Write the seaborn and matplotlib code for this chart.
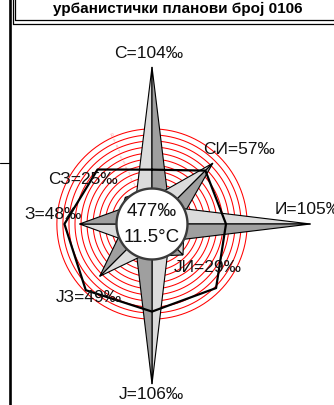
import numpy as np
import pandas as pd
import matplotlib
matplotlib.use("Agg")
import matplotlib.pyplot as plt
import seaborn as sns

# ---------------- data ----------------
directions = ["С", "СИ", "И", "ЈИ", "Ј", "ЈЗ", "З", "СЗ"]
angles_deg = [0, 45, 90, 135, 180, 225, 270, 315]
frequency = [104, 57, 105, 29, 106, 49, 48, 25]          # ‰ (spike lengths)
polygon_r = [36, 50, 49, 60, 58, 62, 58, 51]              # second series (black polygon)
calm_total = "477‰"
mean_temp = "11.5°C"
ring_values = [27, 31, 35, 39, 43, 47, 51, 55, 59, 63]    # red scale rings
ring_labels = ["1", "2", "3", "4", "5", "6", "7", "8", "9", "10"]
title = "урбанистички планови број 0106"

# ---------------- style ----------------
sns.set_theme(style="white")
plt.rcParams["font.family"] = ["Liberation Sans", "DejaVu Sans"]

W, H = 334, 406
fig = plt.figure(figsize=(W / 100, H / 100), dpi=100)

cx, cy = 152, 225          # rose centre in pixels (from top-left)
px_per_unit = 1.51
rmax = 120
R = rmax * px_per_unit
pax = fig.add_axes([(cx - R) / W, (H - cy - R) / H, 2 * R / W, 2 * R / H],
                   projection="polar")
pax.set_theta_zero_location("N")
pax.set_theta_direction(-1)
pax.set_ylim(0, rmax)
pax.axis("off")
pax.patch.set_alpha(0)

th_full = np.linspace(0, 2 * np.pi, 361)

# red rings
for rv in ring_values:
    pax.plot(th_full, np.full_like(th_full, rv), color="red", lw=0.75, zorder=1)

# ring labels (tiny, pink) along a ray
lab_ang = np.deg2rad(-24)
for rv, lt in zip(ring_values, ring_labels):
    pax.text(lab_ang, rv + 2, lt, color="#ff9999", fontsize=3.2,
             rotation=24, ha="center", va="center", zorder=2)

# spikes
light, dark = "#dcdcdc", "#9f9f9f"
rb = 22.0
half = np.deg2rad(28)
for ang, val in zip(angles_deg, frequency):
    t = np.deg2rad(ang)
    # counter-clockwise half (light)
    pax.fill([t, t - half, 0], [val, rb, 0], facecolor=light,
             edgecolor="black", lw=0.8, zorder=3)
    # clockwise half (dark)
    pax.fill([t, t + half, 0], [val, rb, 0], facecolor=dark,
             edgecolor="black", lw=0.8, zorder=3)

# black polygon
poly_df = pd.DataFrame({
    "theta": np.deg2rad(angles_deg + [angles_deg[0]]),
    "r": polygon_r + [polygon_r[0]],
})
sns.lineplot(data=poly_df, x="theta", y="r", sort=False, estimator=None,
             color="black", lw=1.6, ax=pax, zorder=4)
pax.set_xlabel("")
pax.set_ylabel("")

# central circle
pax.fill(th_full, np.full_like(th_full, 23.5), facecolor="white",
         edgecolor="#3a3a3a", lw=1.7, zorder=5)

# ---------------- overlay (frame, labels) ----------------
ov = fig.add_axes([0, 0, 1, 1])
ov.set_xlim(0, W)
ov.set_ylim(H, 0)
ov.axis("off")
ov.patch.set_alpha(0)

# frame lines
ov.plot([9.5, 9.5], [0, H], color="black", lw=1.9)
ov.plot([0, 9], [163.5, 163.5], color="black", lw=0.8)
ov.plot([12.5, 12.5], [0, 24.6], color="black", lw=0.9)
ov.plot([14.5, 14.5], [0, 21.3], color="black", lw=0.9)
ov.plot([12.5, W], [24.6, 24.6], color="black", lw=0.9)
ov.plot([14.5, W], [21.3, 21.3], color="black", lw=0.9)

ov.text(178, 9, title, fontsize=11, fontweight="bold", ha="center",
        va="center", color="black")

# direction labels
label_pos = [(149, 53), (239, 150), (309, 210), (208, 268),
             (151, 395), (89, 298), (53, 215), (83, 180)]
for d, v, (lx, ly) in zip(directions, frequency, label_pos):
    ov.text(lx, ly, f"{d}={v}‰", fontsize=12.5, ha="center", va="center",
            color="#111111")

ov.text(152, 212, calm_total, fontsize=13.5, ha="center", va="center", color="#111111")
ov.text(152, 238, mean_temp, fontsize=13.5, ha="center", va="center", color="#111111")

fig.savefig("out.png", dpi=100)
